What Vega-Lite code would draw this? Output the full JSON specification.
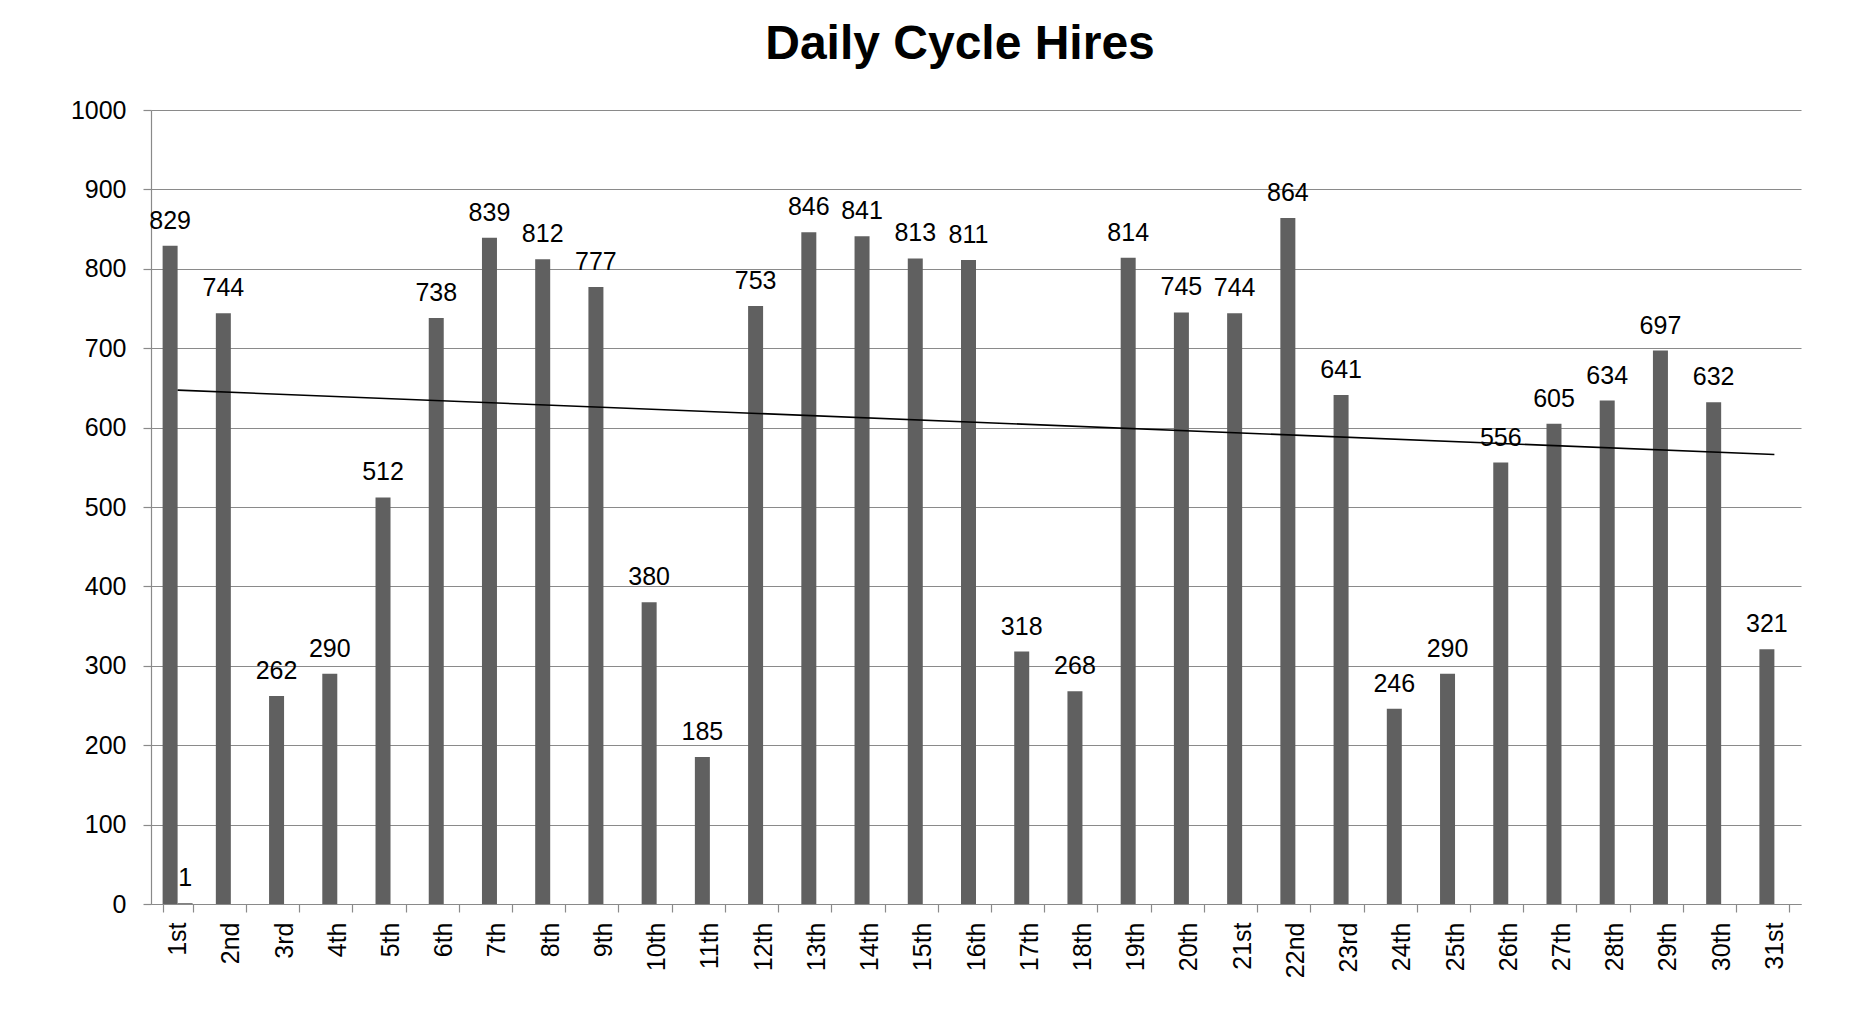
{
  "$schema": "https://vega.github.io/schema/vega-lite/v6.json",
  "width": 1650,
  "height": 794,
  "padding": {"left": 70, "top": 21, "right": 58, "bottom": 40},
  "background": "white",
  "title": {"text": "Daily Cycle Hires", "fontSize": 48, "font": "Liberation Sans", "fontWeight": "bold", "color": "black", "anchor": "middle", "dx": -16, "baseline": "alphabetic", "offset": -9},
  "datasets": {
    "hires": [
      {"day": "1st", "series": "A", "value": 829},
      {"day": "2nd", "series": "A", "value": 744},
      {"day": "3rd", "series": "A", "value": 262},
      {"day": "4th", "series": "A", "value": 290},
      {"day": "5th", "series": "A", "value": 512},
      {"day": "6th", "series": "A", "value": 738},
      {"day": "7th", "series": "A", "value": 839},
      {"day": "8th", "series": "A", "value": 812},
      {"day": "9th", "series": "A", "value": 777},
      {"day": "10th", "series": "A", "value": 380},
      {"day": "11th", "series": "A", "value": 185},
      {"day": "12th", "series": "A", "value": 753},
      {"day": "13th", "series": "A", "value": 846},
      {"day": "14th", "series": "A", "value": 841},
      {"day": "15th", "series": "A", "value": 813},
      {"day": "16th", "series": "A", "value": 811},
      {"day": "17th", "series": "A", "value": 318},
      {"day": "18th", "series": "A", "value": 268},
      {"day": "19th", "series": "A", "value": 814},
      {"day": "20th", "series": "A", "value": 745},
      {"day": "21st", "series": "A", "value": 744},
      {"day": "22nd", "series": "A", "value": 864},
      {"day": "23rd", "series": "A", "value": 641},
      {"day": "24th", "series": "A", "value": 246},
      {"day": "25th", "series": "A", "value": 290},
      {"day": "26th", "series": "A", "value": 556},
      {"day": "27th", "series": "A", "value": 605},
      {"day": "28th", "series": "A", "value": 634},
      {"day": "29th", "series": "A", "value": 697},
      {"day": "30th", "series": "A", "value": 632},
      {"day": "31st", "series": "A", "value": 321},
      {"day": "1st", "series": "B", "value": 1}
    ],
    "trend": [
      {"day": "1st", "trend": 647.2},
      {"day": "31st", "trend": 566.2}
    ]
  },
  "encoding": {
    "x": {
      "field": "day",
      "type": "nominal",
      "scale": {
        "domain": ["1st","2nd","3rd","4th","5th","6th","7th","8th","9th","10th","11th","12th","13th","14th","15th","16th","17th","18th","19th","20th","21st","22nd","23rd","24th","25th","26th","27th","28th","29th","30th","31st"],
        "paddingInner": 0.4364,
        "paddingOuter": 0.2182
      },
      "axis": {
        "title": null,
        "labelAngle": 270,
        "labelAlign": "right",
        "labelBaseline": "middle",
        "labelFontSize": 25,
        "labelFont": "Liberation Sans",
        "labelColor": "black",
        "labelPadding": 10,
        "tickBand": "extent",
        "tickSize": 8,
        "tickColor": "#8a8a8a",
        "domainColor": "#8a8a8a",
        "grid": false
      }
    }
  },
  "layer": [
    {
      "data": {"name": "hires"},
      "mark": {"type": "bar", "color": "#606060"},
      "encoding": {
        "xOffset": {"field": "series", "type": "nominal", "scale": {"domain": ["A", "B"], "paddingInner": 0, "paddingOuter": 0}},
        "y": {
          "field": "value",
          "type": "quantitative",
          "scale": {"domain": [0, 1000], "nice": false},
          "axis": {
            "title": null,
            "values": [0, 100, 200, 300, 400, 500, 600, 700, 800, 900, 1000],
            "format": "d",
            "labelFontSize": 25,
            "labelFont": "Liberation Sans",
            "labelColor": "black",
            "labelPadding": 17,
            "tickSize": 8,
            "tickColor": "#8a8a8a",
            "domainColor": "#8a8a8a",
            "grid": true,
            "gridColor": "#8a8a8a"
          }
        }
      }
    },
    {
      "data": {"name": "hires"},
      "mark": {"type": "text", "fontSize": 25, "font": "Liberation Sans", "color": "black", "baseline": "alphabetic", "dy": -17},
      "encoding": {
        "xOffset": {"field": "series", "type": "nominal", "scale": {"domain": ["A", "B"], "paddingInner": 0, "paddingOuter": 0}},
        "y": {"field": "value", "type": "quantitative"},
        "text": {"field": "value", "type": "quantitative"}
      }
    },
    {
      "data": {"name": "trend"},
      "mark": {"type": "line", "color": "black", "strokeWidth": 1.6},
      "encoding": {
        "y": {"field": "trend", "type": "quantitative"}
      }
    }
  ],
  "config": {
    "view": {"stroke": null},
    "axis": {"domainWidth": 1.2, "tickWidth": 1.2, "gridWidth": 1.2}
  }
}
